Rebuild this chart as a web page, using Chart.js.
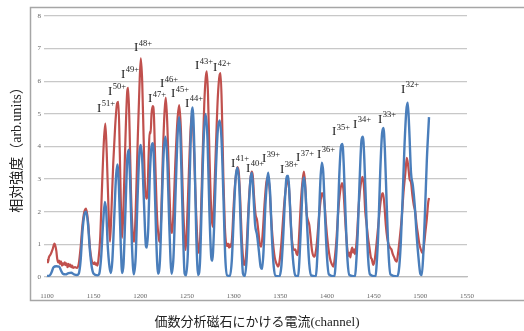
<!DOCTYPE html>
<html>
<head>
<meta charset="utf-8">
<script src="https://cdn.jsdelivr.net/npm/chart.js@4.4.0/dist/chart.umd.min.js"></script>
<style>
  html, body { margin: 0; padding: 0; background: #fff; }
  #wrap { width: 524px; height: 331px; }
</style>
</head>
<body>
<div id="wrap"><canvas id="chart" width="524" height="331"></canvas></div>
<script>
// channel / intensity pairs
const bluePoints = [
  [1100,0.03],[1103,0.05],[1105,0.15],[1107,0.3],[1110,0.33],[1113,0.32],[1115,0.2],[1117,0.1],[1120,0.08],[1123,0.12],[1126,0.13],[1129,0.08],[1132,0.06],
  [1134,0.1],[1136,0.5],[1138,1.4],[1140,1.9],[1142,2.0],[1144,1.6],[1146,0.8],[1148,0.3],[1150,0.1],[1154,0.05],
  [1156,0.1],[1158,0.6],[1160,1.6],[1162,2.3],[1163.5,2.0],[1165,1.0],[1167,0.3],[1168.5,0.12],
  [1170,0.5],[1172,1.8],[1174,3.1],[1175.5,3.45],[1177,2.8],[1179,1.0],[1180.5,0.12],
  [1182,0.4],[1184,2.0],[1186,3.6],[1187.5,3.9],[1189,3.0],[1191,1.0],[1193,0.08],
  [1195,0.6],[1197,2.4],[1199,3.8],[1200.5,4.05],[1202,3.6],[1204,2.2],[1206,0.95],[1207,0.9],
  [1208.5,1.5],[1210,3.0],[1212,4.0],[1213.5,4.1],[1215,3.2],[1217,1.2],[1219,0.1],
  [1221,0.5],[1223,2.2],[1225,3.8],[1227,4.3],[1229,3.5],[1231,1.6],[1233.5,0.1],
  [1235.5,0.6],[1238,2.8],[1240,4.4],[1241.5,4.9],[1243,4.3],[1245,2.2],[1247.5,0.1],[1249,0.05],
  [1251,0.8],[1253,3.2],[1255,5.0],[1256,5.2],[1258,3.8],[1260,1.2],[1262,0.06],
  [1264,0.5],[1266,2.5],[1268,4.3],[1270,5.0],[1272,4.2],[1274,2.0],[1276,0.6],[1277,0.5],
  [1279,1.5],[1281,3.3],[1283,4.5],[1285,4.8],[1287,4.2],[1289,2.5],[1291,0.6],[1293,0.05],[1296,0.03],
  [1298,0.5],[1300,1.8],[1302,3.0],[1304,3.35],[1306,2.8],[1308,1.2],[1310,0.1],[1312,0.03],
  [1314,0.6],[1316,2.0],[1318,3.0],[1319.5,3.2],[1321,2.6],[1323,1.6],[1325,1.3],[1327,0.8],[1329,0.3],[1330.5,0.25],
  [1332,0.8],[1334,2.2],[1336,3.0],[1337,3.2],[1339,2.6],[1341,1.2],[1343,0.3],[1345,0.03],[1349,0.02],
  [1351,0.3],[1353,1.2],[1355,2.4],[1357,3.1],[1358.5,3.1],[1360,2.4],[1362,1.2],[1364,0.4],[1366,0.05],[1369,0.02],
  [1370,0.3],[1372,1.5],[1374,2.8],[1375.5,3.05],[1377,2.6],[1379,1.4],[1381,0.4],[1383,0.05],[1388,0.02],
  [1389,0.3],[1391,1.5],[1393,3.0],[1394.5,3.5],[1396,3.2],[1398,1.8],[1400,0.6],[1402,0.08],[1408,0.02],
  [1409,0.3],[1411,1.3],[1413,3.0],[1415,4.0],[1416.5,4.08],[1418,3.4],[1420,1.8],[1422,0.5],[1424,0.06],[1430,0.02],
  [1431,0.3],[1433,1.4],[1435,3.0],[1437,4.2],[1438.5,4.3],[1440,3.6],[1442,2.0],[1444,0.6],[1446,0.08],[1452,0.02],
  [1453,0.3],[1455,1.4],[1457,3.2],[1459,4.4],[1460.5,4.57],[1462,3.9],[1464,2.2],[1466,0.7],[1468,0.08],[1475,0.02],
  [1477,0.2],[1479,1.0],[1481,2.4],[1483,4.0],[1485,5.1],[1486.5,5.34],[1488,4.6],[1490,3.2],[1492,2.8],[1494,2.2],[1496,1.3],[1498,0.6],[1500,0.1],[1501.5,0.06],
  [1503,0.6],[1505,2.0],[1507,3.6],[1509.3,4.9]
];

const redPoints = [
  [1100,0.55],[1101,0.45],[1102,0.6],[1104,0.7],[1106,0.85],[1108,1.02],[1109,0.95],[1110,0.8],[1111,0.55],[1112,0.45],[1113,0.5],[1114,0.4],
  [1115,0.48],[1116,0.35],[1117,0.42],[1118,0.38],[1119,0.45],[1120,0.36],[1121,0.42],[1122,0.3],[1123,0.4],[1124,0.33],[1125,0.38],[1126,0.3],
  [1127,0.35],[1128,0.28],[1130,0.3],[1132,0.28],[1134,0.4],[1136,0.9],[1138,1.6],[1140,2.0],[1142,2.1],[1144,1.7],[1146,0.9],[1148,0.5],
  [1150,0.4],[1151,0.45],[1152,0.38],[1153,0.42],[1154,0.35],[1155,0.5],
  [1157,1.2],[1159,2.8],[1161,4.2],[1162.5,4.7],[1164,3.8],[1166,2.0],[1167.5,1.08],
  [1169,2.0],[1171,3.5],[1173,4.6],[1175,5.3],[1176.5,5.37],[1178,3.8],[1179.5,1.8],[1180.5,1.2],
  [1182,2.2],[1184,4.2],[1186,5.7],[1187,5.8],[1188.5,4.5],[1190,2.6],[1192,1.3],[1193.5,1.08],
  [1195,2.0],[1197,4.0],[1199,5.8],[1200.5,6.7],[1202,6.0],[1203.5,4.3],[1205,2.8],[1206.5,2.4],[1207.5,2.5],[1209,3.8],[1210,4.45],[1211,4.4],
  [1212,5.0],[1213.3,5.24],[1214.5,5.0],[1216,3.5],[1218,1.8],[1220,1.15],[1221,1.08],
  [1222.5,2.0],[1224,3.6],[1226,5.1],[1227.3,5.5],[1229,4.6],[1231,2.8],[1232.5,1.6],[1234,1.35],
  [1235.5,2.0],[1237.5,3.5],[1240,4.9],[1241.7,5.27],[1243.5,4.5],[1245.5,2.5],[1247.5,1.1],[1248.6,0.83],
  [1250,1.6],[1252,3.2],[1254,4.6],[1255.5,5.0],[1257,4.3],[1259,2.6],[1261,1.2],[1263,0.73],
  [1264.5,1.5],[1266.5,3.5],[1268.5,5.3],[1270,6.1],[1271.2,6.3],[1272.5,5.6],[1274,3.8],[1276,2.0],[1277.5,1.54],
  [1279,2.4],[1281,4.0],[1283,5.5],[1285,6.2],[1286,6.25],[1287.5,5.0],[1289,3.0],[1290.5,1.6],[1292,1.0],[1293,0.95],[1294,1.02],[1295,0.9],[1296,1.0],[1297,0.92],
  [1298.5,1.3],[1300,2.2],[1302,3.0],[1304,3.37],[1305.5,3.2],[1307,2.4],[1308.5,1.3],[1310,0.6],[1311,0.37],[1312.5,0.45],
  [1314,1.0],[1316,2.2],[1318,3.0],[1319.3,3.23],[1320.5,3.1],[1322,2.4],[1323.5,1.9],[1325,1.75],[1326.5,1.4],[1328,1.0],[1329.5,0.93],
  [1331,1.3],[1333,2.2],[1335,2.9],[1336.8,3.07],[1338.5,2.7],[1340,1.9],[1342,1.1],[1344,0.6],[1346,0.4],[1347.5,0.32],[1349,0.45],
  [1351,1.0],[1353,1.8],[1355,2.5],[1357,2.9],[1358.5,2.97],[1360,2.4],[1361.5,1.5],[1363,1.0],[1364.5,0.83],[1366,0.85],[1367.5,0.7],[1368.6,0.67],
  [1370,1.2],[1372,2.3],[1374,3.0],[1375.3,3.23],[1376.5,2.9],[1378,2.0],[1379.5,1.75],[1381,1.6],[1382.5,1.2],[1384,0.8],[1386,0.62],[1387.5,0.7],
  [1389,1.0],[1391,1.7],[1393,2.3],[1394.6,2.57],[1396,2.5],[1397.5,2.2],[1399,1.6],[1401,1.0],[1403,0.6],[1405,0.4],[1406.8,0.32],[1408,0.5],
  [1410,1.1],[1412,2.0],[1414,2.6],[1416,2.88],[1417.5,2.7],[1419,2.0],[1420.5,1.3],[1422,0.8],[1423,0.65],[1424,0.75],[1425,0.6],[1426,0.8],[1427,0.9],[1428,0.75],[1429,0.85],[1430,0.7],
  [1432,1.2],[1434,2.2],[1436,2.8],[1438,3.07],[1439.5,2.8],[1441,2.0],[1442.5,1.6],[1444,1.2],[1445.5,0.9],[1447,0.6],[1448,0.55],[1449.6,0.37],[1451,0.5],
  [1453,1.0],[1455,1.6],[1457,2.2],[1458.5,2.5],[1460,2.57],[1461.5,2.2],[1463,1.6],[1464.5,1.2],[1466,1.0],[1467.5,0.9],[1469,0.85],[1470.5,0.7],[1472,0.6],[1473.5,0.5],[1474.7,0.47],[1476,0.7],
  [1478,1.2],[1480,1.8],[1482,2.6],[1484,3.2],[1485.5,3.65],[1487,3.4],[1488.5,3.0],[1490,2.9],[1491.5,2.5],[1493,2.2],[1494.5,2.0],[1496,1.6],[1497.5,1.3],[1499,1.0],[1500.5,0.85],[1502.5,0.73],
  [1504,1.0],[1505.5,1.4],[1507,1.8],[1508.5,2.3],[1509.3,2.42]
];

// charge-state labels: text, channel, intensity where the label sits
const ionCharges = ['51+','50+','49+','48+','47+','46+','45+','44+','43+','42+','41+','40+','39+','38+','37+','36+','35+','34+','33+','32+'];
const ionCh  = [1153.6,1165.4,1179.3,1193.2,1208.2,1221.1,1232.9,1247.9,1258.6,1277.9,1297.1,1313.2,1330.4,1349.6,1366.8,1389.3,1405.4,1427.9,1454.6,1479.3];
const ionVal = [5.21,5.73,6.25,7.05,5.49,5.95,5.64,5.36,6.5,6.44,3.52,3.37,3.65,3.34,3.68,3.8,4.48,4.72,4.87,5.79];

const xTitle = '価数分析磁石にかける電流(channel)';
const yTitle = '相対強度（arb.units）';

const serif = '"Liberation Serif", "DejaVu Serif", "Noto Sans CJK JP", serif';

// gray frame around the plot, like the Excel chart border
const framePlugin = {
  id: 'frame',
  beforeDraw(chart) {
    const ctx = chart.ctx;
    ctx.save();
    ctx.strokeStyle = '#a6a6a6';
    ctx.lineWidth = 1.5;
    ctx.strokeRect(30.5, 7.5, 520, 293);
    ctx.restore();
  }
};

const ionPlugin = {
  id: 'ionLabels',
  afterDatasetsDraw(chart) {
    const { ctx, scales: { x, y } } = chart;
    ctx.save();
    ctx.fillStyle = '#222';
    ctx.textAlign = 'left';
    ctx.textBaseline = 'alphabetic';
    ionCharges.forEach((q, i) => {
      const px = x.getPixelForValue(ionCh[i]);
      const py = y.getPixelForValue(ionVal[i]);
      ctx.font = '13px ' + serif;
      ctx.fillText('I', px, py + 4.5);
      const w = ctx.measureText('I').width;
      ctx.font = '8.5px ' + serif;
      ctx.fillText(q, px + w + 0.5, py - 1);
    });
    ctx.restore();
  }
};

const toXY = pts => pts.map(p => ({ x: p[0], y: p[1] }));

new Chart(document.getElementById('chart'), {
  type: 'line',
  data: {
    datasets: [
      {
        label: 'blue',
        data: toXY(bluePoints),
        borderColor: '#4A7EBB',
        borderWidth: 2.4,
        pointRadius: 0,
        cubicInterpolationMode: 'monotone',
        fill: false
      },
      {
        label: 'red',
        data: toXY(redPoints),
        borderColor: '#C0504D',
        borderWidth: 2.2,
        pointRadius: 0,
        cubicInterpolationMode: 'monotone',
        fill: false
      }
    ]
  },
  options: {
    responsive: false,
    animation: false,
    layout: { padding: { left: 9, top: 16, right: 57, bottom: 0 } },
    plugins: {
      legend: { display: false },
      tooltip: { enabled: false }
    },
    scales: {
      x: {
        type: 'linear',
        min: 1100,
        max: 1550,
        ticks: {
          stepSize: 50,
          padding: 7,
          color: '#666',
          font: { size: 7, family: serif },
          callback: v => String(v)
        },
        grid: { display: false },
        border: { display: true, color: '#bdbdbd', width: 1.2 },
        title: {
          display: true,
          text: xTitle,
          color: '#222',
          font: { size: 13, family: serif },
          padding: { top: 0, bottom: 1 }
        },
        afterFit: s => { s.height = 54; }
      },
      y: {
        min: 0,
        max: 8,
        ticks: {
          stepSize: 1,
          padding: 3,
          color: '#666',
          font: { size: 7, family: serif }
        },
        grid: { color: '#c8c8c8', lineWidth: 1.3, tickLength: 3 },
        border: { display: false },
        title: {
          display: true,
          text: yTitle,
          color: '#222',
          font: { size: 14, family: serif },
          padding: 0
        },
        afterFit: s => { s.width = 38; }
      }
    }
  },
  plugins: [framePlugin, ionPlugin]
});
</script>
</body>
</html>
